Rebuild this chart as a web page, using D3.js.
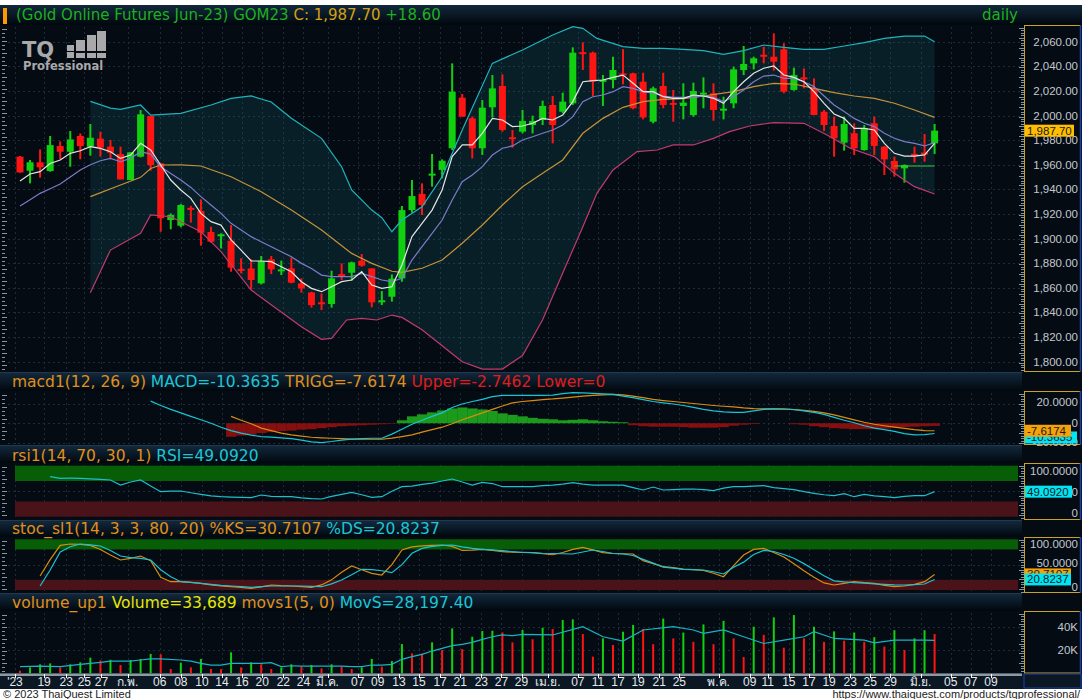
<!DOCTYPE html>
<html>
<head>
<meta charset="utf-8">
<script src="https://cdn.jsdelivr.net/npm/d3@7"></script>
<style>
  body { margin: 0; background: #fff; }
  svg { display: block; }
  text { font-family: "Liberation Sans", Arial, sans-serif; }
  .ttl { font-family: "DejaVu Sans", Verdana, sans-serif; }
</style>
</head>
<body>
<div id="chart"></div>
<script>
// ---- data ----
var open = [1966.6,1955.2,1962.0,1954.9,1975.2,1970.6,1983.4,1974.7,1981.2,1974.7,
  1968.7,1947.6,1966.6,1999.6,1961.2,1915.1,1910.5,1925.0,1922.4,1905.4,
  1902.5,1898.3,1875.4,1875.8,1863.7,1883.2,1874.0,1875.8,1863.7,1856.3,
  1848.3,1846.9,1871.2,1872.3,1882.1,1875.8,1848.5,1852.8,1867.7,1923.2,
  1936.3,1952.0,1955.8,1973.4,2014.5,1997.7,1973.4,2006.7,2024.0,1982.4,
  1986.9,1992.3,1996.4,2008.6,2003.1,2009.9,2051.5,2051.1,2027.5,2028.9,
  2034.3,2034.3,2027.5,1995.0,2024.0,2010.3,2007.8,2000.4,2017.5,2018.1,
  2004.5,2009.9,2037.0,2042.4,2049.4,2047.8,2053.8,2020.8,2031.0,2022.1,
  2003.1,1991.5,1978.0,1985.6,1972.0,1993.7,1974.7,1963.1,1957.1,1968.9,
  1969.9,1977.4];
var high = [1967.1,1963.9,1972.5,1983.4,1979.0,1987.4,1985.5,1993.1,1986.9,1980.1,
  1974.7,1970.1,2004.5,1999.6,1961.2,1920.5,1928.1,1926.6,1931.9,1909.7,
  1904.3,1911.0,1884.0,1883.2,1885.9,1885.9,1882.1,1884.5,1867.7,1856.9,
  1855.5,1873.9,1879.9,1881.3,1887.5,1875.8,1857.4,1870.9,1926.5,1947.6,
  1944.9,1968.8,1964.4,2042.4,2017.5,1999.1,2012.6,2032.9,2033.5,1988.3,
  2004.5,1999.9,2012.1,2015.9,2018.6,2055.4,2059.5,2051.9,2032.9,2047.8,
  2054.0,2034.8,2034.8,2023.5,2034.8,2020.8,2026.2,2026.7,2031.0,2026.2,
  2015.3,2039.7,2056.5,2047.8,2055.9,2066.8,2058.7,2038.9,2038.3,2030.2,
  2004.5,1999.1,1999.1,1993.7,1992.3,1999.1,1975.3,1966.6,1960.3,1974.7,
  1985.0,1993.1];
var low = [1953.6,1944.9,1949.5,1954.4,1964.4,1958.4,1964.4,1967.4,1966.6,1964.4,
  1948.1,1947.6,1966.0,1955.2,1905.6,1907.6,1909.2,1913.0,1894.3,1896.7,
  1892.0,1873.1,1871.8,1859.0,1862.8,1871.2,1870.4,1863.7,1856.1,1843.9,
  1842.0,1843.9,1866.4,1865.8,1877.2,1844.2,1846.1,1848.8,1865.0,1921.1,
  1919.2,1942.2,1949.0,1972.0,1999.1,1965.2,1968.0,1998.5,1986.9,1973.9,
  1985.5,1985.5,1992.3,1977.4,2001.8,2008.6,2037.0,2015.9,2007.8,2022.1,
  2025.3,2005.1,1996.9,1993.7,2005.9,1995.0,1996.9,1999.1,2005.9,1995.8,
  1996.9,2005.9,2032.9,2037.5,2042.4,2036.4,2018.1,2020.2,2022.1,2000.4,
  1987.4,1966.6,1971.5,1967.9,1971.5,1967.9,1951.7,1950.3,1945.5,1961.7,
  1962.5,1968.8];
var close = [1953.8,1962.0,1957.9,1976.0,1970.6,1980.6,1975.2,1982.0,1973.9,1969.8,
  1948.1,1970.1,2001.0,1959.8,1916.5,1919.2,1927.3,1923.8,1904.8,1897.5,
  1903.5,1876.4,1874.3,1866.4,1881.8,1875.0,1875.0,1864.2,1859.6,1846.0,
  1847.5,1867.7,1869.0,1880.7,1878.0,1848.2,1849.9,1867.5,1923.2,1934.6,
  1927.3,1952.8,1963.3,2019.4,1999.1,1973.4,2006.4,2022.1,1988.3,1981.6,
  1995.6,1995.6,2007.8,1992.3,2011.3,2051.1,2050.0,2027.5,2029.0,2037.0,
  2033.2,2005.9,1998.5,2022.1,2008.6,2009.4,2010.5,2019.9,2018.6,2004.5,
  2005.6,2037.5,2041.9,2046.5,2048.4,2043.8,2019.4,2032.9,2029.4,2000.4,
  1992.3,1981.5,1993.1,1973.4,1989.6,1975.3,1964.4,1956.3,1959.8,1968.0,
  1969.1,1987.7];

// short and long moving averages (white, purple), one value per candle
var maFast = [1946.8,1952.5,1954.4,1961.1,1963.9,1969.3,1971.4,1974.7,1973.3,1970.6,
  1965.2,1967.9,1977.4,1972.0,1959.8,1947.6,1939.5,1932.7,1920.5,1913.8,
  1911.0,1898.9,1890.7,1881.8,1881.8,1881.3,1877.2,1873.1,1865.0,1859.6,
  1856.9,1860.9,1865.0,1866.4,1873.1,1862.3,1859.6,1860.9,1878.6,1901.6,
  1912.4,1923.2,1939.5,1966.6,1976.1,1976.1,1985.6,1997.7,1996.4,1991.0,
  1991.5,1993.7,1997.7,1996.4,2000.4,2011.3,2027.5,2028.4,2028.9,2031.0,
  2032.9,2026.2,2019.4,2019.4,2015.3,2014.0,2014.0,2016.7,2015.9,2014.0,
  2009.9,2019.4,2027.5,2034.3,2038.4,2040.3,2032.9,2031.0,2027.5,2019.4,
  2009.9,2001.3,1997.7,1989.6,1989.6,1988.3,1977.4,1969.3,1967.1,1967.1,
  1968.0,1977.4];
var maSlow = [1926.5,1931.5,1936.8,1940.5,1944.4,1950.0,1955.8,1960.0,1963.3,1965.2,
  1962.5,1965.2,1970.6,1968.7,1958.4,1953.0,1947.6,1941.6,1934.1,1927.3,
  1920.5,1912.4,1907.0,1901.6,1897.5,1893.4,1889.4,1885.3,1879.9,1875.8,
  1870.4,1869.1,1869.1,1869.1,1871.8,1869.1,1866.4,1865.0,1867.7,1882.6,
  1893.5,1904.3,1915.1,1931.4,1946.3,1951.7,1958.5,1967.9,1973.4,1975.3,
  1980.1,1982.8,1985.6,1988.3,1992.3,1999.1,2011.3,2015.3,2016.7,2019.4,
  2023.5,2022.1,2019.4,2018.1,2015.9,2014.8,2014.8,2014.8,2015.9,2014.8,
  2011.3,2015.3,2020.8,2027.5,2032.1,2032.9,2030.2,2030.2,2027.5,2023.5,
  2015.9,2008.6,2003.2,1997.7,1993.7,1991.0,1985.6,1981.5,1978.8,1977.4,
  1975.3,1978.0];

// bollinger band lines as [candle index, price]
var bbUpper = [[7,2011.5],[9,2006],[10,2005],[12,2008.6],[13,2000.4],[16,2001.8],[19,2008.6],
  [21,2014],[23,2015.9],[25,2011],[27,1997.8],[30,1981.5],[32,1958.4],[33,1939.5],[35,1923.2],
  [36,1917],[37,1905.6],[38,1915.1],[40,1925.9],[42,1950.3],[44,1988.3],[47,2042.4],[50,2053.3],
  [53,2065.4],[55,2072.2],[56,2070.9],[57.4,2062.7],[60,2056],[62,2054.6],[64,2054.6],[66,2053.8],
  [68,2052.7],[70,2049.7],[72,2052.7],[74,2057.3],[76,2055.4],[78,2053.8],[80,2053.8],[82,2056.5],
  [84,2059.2],[86,2062.7],[88,2064.6],[90,2064.6],[91,2060]];
var bbMid = [[7,1934.1],[10,1943.6],[12,1949.8],[13,1957],[14,1959.8],[16,1960],[18,1959],[21,1950.3],
  [24,1938.1],[27,1923.2],[30,1907],[33,1888],[35,1879.9],[37,1873.5],[38,1872.6],[40,1875.9],
  [42,1882.6],[44,1896.2],[46,1911.1],[48,1927.3],[50,1942.2],[52,1953.1],[54,1963.9],[56,1985.6],
  [58,1997.7],[60,2006.7],[62,2011.3],[64,2013.2],[66,2013.7],[68,2015.9],[71,2019.4],[73,2023.5],
  [75,2026.2],[77,2025.6],[79,2022.1],[81,2018.6],[83,2015.9],[85,2014.0],[87,2010.0],[89,2004.5],
  [91,1998.5]];
var bbLower = [[7,1856.1],[9,1890.7],[12,1904.3],[13,1919.2],[15,1917.8],[18,1905.6],[20,1889.4],
  [23,1858.2],[25.5,1843.3],[28,1828.4],[30,1818.2],[31,1819],[32.5,1833.9],[34,1835.2],[35.5,1833.9],
  [37,1837.9],[38,1836],[40,1826],[42,1813],[44,1800],[46,1794],[48,1794],[50,1805],[52,1834],
  [54,1872],[56,1909.7],[57.4,1936.8],[59,1955.8],[61.4,1970.7],[63.4,1972],[65,1976.1],[67,1976.1],
  [69,1981.5],[70.6,1986.9],[72.6,1991.5],[75,1994.3],[78,1993.7],[80.3,1984.2],[82.6,1973.4],
  [85,1966.6],[87,1953.1],[89,1942.2],[91,1936.3]];
var levelLine = [[87,1959],[91,1959]];

// MACD panel, first value belongs to candle macdStart / trigStart / histStart
var macdStart = 13;
var macdLine = [22.4,18,14,10.5,7,3.5,0,-4,-7.5,-10,-12,-13.5,-14,-14.8,-15.5,-17,-18.8,-19.7,
  -18.5,-17,-16,-15.5,-15.2,-15.2,-11,-6,-1,3,7,10.5,16,19.5,22,24.1,27,28.2,28.2,28.2,28.2,28.2,
  28.5,30,31,30.8,30.3,29.8,29.2,27.5,26,24,22,20.7,19.5,18,16,14,12.5,11.5,11.1,11.1,12.5,14,14.5,
  14.2,13.9,12.5,11,9,6,3,0.5,-2.5,-4.9,-6.5,-8.2,-10.5,-11.8,-11.5,-10.4];
var trigStart = 21;
var trigLine = [7,3,-0.5,-4.9,-7.5,-10,-11.8,-13,-14.2,-14.8,-15.2,-15.6,-16,-16.2,-16.2,-16.2,-15,
  -13.5,-11.8,-9,-6.5,-4,-0.5,3.5,7,10.5,14,17.5,20.7,22,23,24,24.6,25.5,26.5,27.5,28.2,28.8,29.2,
  28.8,27.5,26,24.1,23,22,21,20,19,18,17.2,16.5,15.5,14.8,14.5,14.5,14.5,13.8,13,12.1,10.5,8.5,6,
  3.5,1,-1,-2.5,-3.9,-5.2,-6.5,-7.4,-7.6];
var histStart = 21;
var histVals = [-13.7,-12.5,-11.5,-10,-9,-8,-7.5,-6.5,-6,-5,-4,-3,-2.5,-2,-1.5,-1,-0.5,3,7,9,11,
  13,15,16,15,14,12.5,10,8.5,7,5.5,4.5,4,3,3.5,4,3,2,1.5,1,-2,-3,-3.5,-3.5,-3.5,-4,-4.5,-4.5,-4.5,
  -4,-2.5,-1.5,-0.8,0,0,0,-1,-1.5,-3,-4,-5,-5.5,-6,-6,-6,-5.5,-4.5,-4,-3.5,-3,-2.75];

// RSI panel
var rsiStart = 3;
var rsiVals = [78.4,75.3,75.5,75.3,74,73,72,62,68,72,60,49,50,50.4,47,43.9,41,39.2,38.5,38,37.3,
  42.5,40,39.5,39.2,37,35.5,34.7,40,43.9,47.8,43,38,39.2,50,58.8,60,63.5,66,70,73.9,68,62,67.4,65,
  58.8,58.8,58.8,58.8,61,62,64,66.7,64,62,62,62,62,57,52.4,58.2,52.4,53,54,54.3,53,51,56,58.8,59,60,
  60.8,57,55,53,49,45.9,43,41.2,45.1,39.2,43.9,41,39.2,37.3,40,41.2,41.2,49.1];

// Stochastic panel
var stochStart = 2;
var stochK = [27.6,60,88,90.7,90,88,80,69,59.2,62.5,67,57.8,25,16.4,16.4,15,13.2,10,8,6.5,5,3.4,6,
  9.9,8.5,7.9,6.5,5.3,10,20,35,47.3,40,32.9,29.6,50,78.9,85,87,88,88.8,86,78,78.5,80.3,78,75.5,74.5,
  74,73.6,71.5,69.5,74,80,84.2,79,73.6,72,71.5,71,58,52,46,44,41,40,38.5,33,26.2,48,69,80,82,74,65,52,
  38,25,14,9.9,13,16.4,14.5,13.2,9,6.5,7.9,11,16.4,30.7];
var stochD = [7.9,39.4,75,85.4,90.7,89,86.8,78,67,64,62.5,59.2,40,26.2,16.4,15,13.2,11,9,7.9,6.5,
  5.3,6.5,7.9,7.9,7.9,7.9,7,6.5,12,19.7,30,40.8,40,38,34.2,50,72.4,82,86,88,88.8,85,82,80.3,79,77.5,
  75.5,74.5,73.6,72.5,72,71.5,71,75,78.9,76,72,71,68,60.5,53,45,43,40.8,40,39.4,36,31.6,45,55,70,78,
  76,70,62.5,52,40,28,18,16,14.5,13.5,12,11,10,9.9,10.5,11.8,20.8];

// Volume panel
var volume = [2200,5100,7700,8500,5100,7700,9400,13400,11000,11600,
  7100,11400,12300,16600,16300,3700,9100,5100,12300,3700,
  3500,18000,5100,9400,7700,3700,5100,7700,5700,7100,
  4200,7700,5700,3700,5100,12300,5700,10500,25100,17100,
  16900,26600,20000,38600,20800,31400,36300,36500,35100,26600,
  37200,29200,39100,38000,45700,46300,33700,14300,30000,24300,
  35700,41500,38000,25000,47000,30000,35000,27000,42000,25000,
  45000,30000,14000,40000,33000,48000,22000,50000,30000,40000,
  27000,36000,28000,35000,27000,31000,23000,37000,20000,30000,
  37000,33689];
var movS = [[0,5700],[2,6200],[4,5700],[6,7700],[8,9400],[9,10500],[11,10500],[12,11400],[13,12300],
  [14,12300],[16,11400],[17,10500],[18,8500],[19,7100],[20,7100],[21,8500],[22,8500],[24,8500],
  [25,9100],[26,5700],[27,6500],[28,6200],[30,6200],[32,6200],[33,5700],[34,5700],[35,7100],[36,7100],
  [37,7700],[38,12000],[39,14300],[40,16300],[41,19100],[42,21400],[43,23700],[44,24800],[45,26600],
  [46,29100],[47,31400],[48,32900],[49,32300],[50,33400],[53,32900],[56,40000],[58,31400],[60,27700],
  [62,37200],[65,40000],[67,37200],[68,34300],[70,37200],[72,31400],[74,25600],[76,28500],[78,31400],
  [79,35700],[81,29900],[84,28500],[85,26200],[87,28500],[90,28500],[91,28197]];

// price axis and time axis labels
var priceTicks = [1800,1820,1840,1860,1880,1900,1920,1940,1960,1980,2000,2020,2040,2060];
var xLabels = ["'23","19","23","25","27","ก.พ.","06","08","10","14","16","20","22","24","มี.ค.",
  "07","09","13","15","17","21","23","27","29","เม.ย.","07","11","17","19","21","25","พ.ค.",
  "09","11","15","17","19","23","25","29","มิ.ย.","05","07","09"];
var xLabelPos = [-0.5,2.4,4.6,6.4,8.1,10.7,13.9,16.0,18.1,20.1,22.1,24.1,26.2,28.2,30.6,
  33.6,35.6,37.7,39.7,41.8,43.8,45.9,47.9,49.9,52.5,55.5,57.5,59.5,61.5,63.6,65.6,69.5,
  72.6,74.4,76.5,78.5,80.5,82.6,84.6,86.6,89.6,92.6,94.6,96.6];

// ---- layout ----
var W = 1082, H = 699;
var plotRight = 1022;
var up = '#10d010', down = '#ff1414';
var bg = '#040b13';
var gridColor = '#1d2c3c';

var svg = d3.select('#chart').append('svg').attr('width', W).attr('height', H);
var defs = svg.append('defs');
var grad = defs.append('linearGradient').attr('id', 'titleGrad').attr('x1', 0).attr('y1', 0).attr('x2', 0).attr('y2', 1);
grad.append('stop').attr('offset', '0%').attr('stop-color', '#12283c');
grad.append('stop').attr('offset', '100%').attr('stop-color', '#01070d');
defs.append('clipPath').attr('id', 'plotClip').append('rect')
  .attr('x', 8).attr('y', 0).attr('width', plotRight - 8).attr('height', H);

var x = d3.scaleLinear().domain([0, 91]).range([20, 934.6]);

var panels = {
  main:  {title: [5, 25],   plot: [25, 372]},
  macd:  {title: [373, 391], plot: [391, 445]},
  rsi:   {title: [446, 463], plot: [463, 520]},
  stoch: {title: [521, 537], plot: [537, 593]},
  vol:   {title: [594, 611], plot: [611, 673.5]}
};

var yPrice = d3.scaleLinear().domain([1800, 2060]).range([361.7, 41.7]);
var yMacd = d3.scaleLinear().domain([-20, 20]).range([443, 403.5]);
var yRsi = d3.scaleLinear().domain([0, 100]).range([516.7, 465.7]);
var yStoch = d3.scaleLinear().domain([0, 100]).range([590, 539.3]);
var yVol = d3.scaleLinear().domain([0, 40000]).range([673.3, 626.7]);

// backgrounds
Object.keys(panels).forEach(function(k) {
  var p = panels[k];
  svg.append('rect').attr('x', 0).attr('y', p.title[0]).attr('width', W)
    .attr('height', p.title[1] - p.title[0]).attr('fill', 'url(#titleGrad)');
  svg.append('rect').attr('x', 0).attr('y', p.plot[0]).attr('width', W)
    .attr('height', p.plot[1] - p.plot[0]).attr('fill', bg);
  svg.append('line').attr('x1', 0).attr('x2', W).attr('y1', p.plot[1] + 0.5).attr('y2', p.plot[1] + 0.5)
    .attr('stroke', '#22384c');
});

// vertical dotted grid in all panels
Object.keys(panels).forEach(function(k) {
  var p = panels[k];
  svg.append('g').selectAll('line').data(xLabelPos).enter().append('line')
    .attr('x1', function(d) { return Math.round(x(d)) + 0.5; })
    .attr('x2', function(d) { return Math.round(x(d)) + 0.5; })
    .attr('y1', p.plot[0] + 2).attr('y2', p.plot[1] - 1)
    .attr('stroke', gridColor).attr('stroke-dasharray', '2,3');
});

// horizontal grid
function hGrid(vals, scale) {
  svg.append('g').selectAll('line').data(vals).enter().append('line')
    .attr('x1', 8).attr('x2', plotRight)
    .attr('y1', function(d) { return Math.round(scale(d)) + 0.5; })
    .attr('y2', function(d) { return Math.round(scale(d)) + 0.5; })
    .attr('stroke', gridColor).attr('stroke-dasharray', '2,3');
}
hGrid(priceTicks, yPrice);
hGrid([-20, 0, 20], yMacd);
hGrid([50], yRsi);
hGrid([50], yStoch);
hGrid([20000, 40000], yVol);

// ---- main price panel ----
var gMain = svg.append('g').attr('clip-path', 'url(#plotClip)');
var pLine = d3.line().x(function(d) { return x(d[0]); }).y(function(d) { return yPrice(d[1]); });
var bandPts = bbUpper.concat(bbLower.slice().reverse());
gMain.append('path').attr('d', pLine(bandPts) + 'Z').attr('fill', 'rgba(24,105,118,0.22)');

var candles = gMain.append('g').selectAll('g').data(d3.range(open.length)).enter().append('g');
candles.append('line')
  .attr('x1', function(i) { return x(i); }).attr('x2', function(i) { return x(i); })
  .attr('y1', function(i) { return yPrice(high[i]); })
  .attr('y2', function(i) { return yPrice(low[i]); })
  .attr('stroke', function(i) { return close[i] >= open[i] ? up : down; })
  .attr('stroke-width', 2);
candles.append('rect')
  .attr('x', function(i) { return x(i) - 3.5; })
  .attr('width', 7)
  .attr('y', function(i) { return yPrice(Math.max(open[i], close[i])); })
  .attr('height', function(i) { return Math.max(2, Math.abs(yPrice(open[i]) - yPrice(close[i]))); })
  .attr('fill', function(i) { return close[i] >= open[i] ? up : down; });

function drawLine(g, pts, color, w) {
  g.append('path').attr('d', pLine(pts)).attr('fill', 'none').attr('stroke', color).attr('stroke-width', w || 1.2);
}
function perCandle(arr, start) {
  return arr.map(function(v, i) { return [i + (start || 0), v]; });
}
drawLine(gMain, bbUpper, '#1fb4bd');
drawLine(gMain, bbLower, '#c23a6e');
drawLine(gMain, bbMid, '#c69238');
drawLine(gMain, perCandle(maSlow), '#7c7cc8');
drawLine(gMain, perCandle(maFast), '#e6e6e6');
drawLine(gMain, levelLine, '#38c838');

// header
svg.append('rect').attr('x', 0).attr('y', 0).attr('width', W).attr('height', 5).attr('fill', '#fff');
svg.append('rect').attr('x', 3).attr('y', 8).attr('width', 4).attr('height', 16).attr('fill', '#ff9900');
var head = svg.append('text').attr('class', 'ttl').attr('x', 16).attr('y', 20).attr('font-size', 15);
head.append('tspan').attr('fill', '#1eb01e').text('(Gold Online Futures Jun-23) GOM23 ');
head.append('tspan').attr('fill', '#d4a015').text('C: 1,987.70 ');
head.append('tspan').attr('fill', '#1eb01e').text('+18.60');
svg.append('text').attr('class', 'ttl').attr('x', 1018).attr('y', 20).attr('text-anchor', 'end').attr('font-size', 15)
  .attr('fill', '#1eb01e').text('daily');

// logo
var logo = svg.append('g').attr('fill', '#a9a9a9');
logo.append('text').attr('class', 'ttl').attr('x', 22).attr('y', 57).attr('font-size', 21).attr('font-weight', 'bold')
  .text('TQ');
logo.append('text').attr('class', 'ttl').attr('x', 23).attr('y', 70).attr('font-size', 11.5).attr('font-weight', 'bold')
  .text('Professional');
[[67, 45, 7, 6], [76, 40, 9, 11], [87, 35, 9, 16], [97, 31, 9, 20],
 [67, 52, 7, 6], [76, 53, 9, 5], [87, 53, 9, 5], [97, 53, 9, 5]].forEach(function(r) {
  logo.append('rect').attr('x', r[0]).attr('y', r[1]).attr('width', r[2]).attr('height', r[3]);
});

// ---- MACD ----
var gMacd = svg.append('g').attr('clip-path', 'url(#plotClip)');
var step = x(1) - x(0);
gMacd.selectAll('rect').data(histVals).enter().append('rect')
  .attr('x', function(d, i) { return x(i + histStart) - step / 2; })
  .attr('width', step + 0.3)
  .attr('y', function(d) { return Math.min(yMacd(0), yMacd(d)); })
  .attr('height', function(d) { return Math.abs(yMacd(d) - yMacd(0)); })
  .attr('fill', function(d) { return d >= 0 ? '#1c9a1c' : '#860f10'; });
var mLine = d3.line().x(function(d) { return x(d[0]); }).y(function(d) { return yMacd(d[1]); });
gMacd.append('path').attr('d', mLine(perCandle(trigLine, trigStart))).attr('fill', 'none')
  .attr('stroke', '#d98c12').attr('stroke-width', 1.2);
gMacd.append('path').attr('d', mLine(perCandle(macdLine, macdStart))).attr('fill', 'none')
  .attr('stroke', '#19c4d4').attr('stroke-width', 1.2);

// ---- RSI ----
var gRsi = svg.append('g').attr('clip-path', 'url(#plotClip)');
gRsi.append('rect').attr('x', 15).attr('width', 1003).attr('y', yRsi(100)).attr('height', yRsi(70) - yRsi(100)).attr('fill', '#075e07');
gRsi.append('rect').attr('x', 15).attr('width', 1003).attr('y', yRsi(30)).attr('height', yRsi(0) - yRsi(30)).attr('fill', '#4a1219');
gRsi.append('path').attr('d', d3.line().x(function(d) { return x(d[0]); }).y(function(d) { return yRsi(d[1]); })(perCandle(rsiVals, rsiStart)))
  .attr('fill', 'none').attr('stroke', '#1cbfcc').attr('stroke-width', 1.2);

// ---- Stochastic ----
var gSt = svg.append('g').attr('clip-path', 'url(#plotClip)');
gSt.append('rect').attr('x', 15).attr('width', 1003).attr('y', yStoch(100)).attr('height', yStoch(80) - yStoch(100)).attr('fill', '#075e07');
gSt.append('rect').attr('x', 15).attr('width', 1003).attr('y', yStoch(20)).attr('height', yStoch(0) - yStoch(20)).attr('fill', '#4a1219');
var sLine = d3.line().x(function(d) { return x(d[0]); }).y(function(d) { return yStoch(d[1]); });
gSt.append('path').attr('d', sLine(perCandle(stochK, stochStart))).attr('fill', 'none').attr('stroke', '#d98c12').attr('stroke-width', 1.2);
gSt.append('path').attr('d', sLine(perCandle(stochD, stochStart))).attr('fill', 'none').attr('stroke', '#19c4d4').attr('stroke-width', 1.2);

// ---- Volume ----
var gVol = svg.append('g').attr('clip-path', 'url(#plotClip)');
gVol.selectAll('rect').data(volume).enter().append('rect')
  .attr('x', function(d, i) { return x(i) - 1; })
  .attr('width', 2)
  .attr('y', function(d) { return yVol(d); })
  .attr('height', function(d) { return yVol(0) - yVol(d); })
  .attr('fill', function(d, i) { return i > 0 && d >= volume[i - 1] ? up : down; });
gVol.append('path').attr('d', d3.line().x(function(d) { return x(d[0]); }).y(function(d) { return yVol(d[1]); })(movS))
  .attr('fill', 'none').attr('stroke', '#19b4c4').attr('stroke-width', 1.2);

// ---- panel titles ----
function title(y, parts) {
  var t = svg.append('text').attr('class', 'ttl').attr('x', 12).attr('y', y).attr('font-size', 15.5);
  parts.forEach(function(p) { t.append('tspan').attr('fill', p[1]).text(p[0]); });
}
var cOr = '#e0901a', cCy = '#1cc6d6', cRd = '#e01c1c', cYe = '#e6e600';
title(387, [['macd1(12, 26, 9) ', cOr], ['MACD=-10.3635 ', cCy], ['TRIGG=-7.6174 ', cOr], ['Upper=-2.7462 Lower=0', cRd]]);
title(461, [['rsi1(14, 70, 30, 1) ', cOr], ['RSI=49.0920', cCy]]);
title(534, [['stoc_sl1(14, 3, 3, 80, 20) %KS=30.7107 ', cOr], ['%DS=20.8237', cCy]]);
title(608, [['volume_up1 ', cOr], ['Volume=33,689 ', cYe], ['movs1(5, 0) ', cOr], ['MovS=28,197.40', cCy]]);

// ---- left rulers ----
Object.keys(panels).forEach(function(k) {
  var p = panels[k];
  var ys = d3.range(p.plot[0] + 4, p.plot[1] - 2, 4);
  svg.append('g').selectAll('line').data(ys).enter().append('line')
    .attr('x1', 2).attr('x2', function(d, i) { return i % 3 === 0 ? 7 : 5; })
    .attr('y1', function(d) { return d + 0.5; }).attr('y2', function(d) { return d + 0.5; })
    .attr('stroke', '#8795a3');
});

// ---- right axis boxes ----
svg.append('rect').attr('x', plotRight).attr('y', 25).attr('width', W - plotRight).attr('height', 649).attr('fill', '#040b13');
Object.keys(panels).forEach(function(k) {
  var p = panels[k];
  var top = k === 'main' ? 25 : p.plot[0];
  svg.append('rect').attr('x', 1024.5).attr('y', top + 0.5).attr('width', 56).attr('height', p.plot[1] - top - 1)
    .attr('fill', 'none').attr('stroke', '#c9a227');
  svg.append('line').attr('x1', 1080.5).attr('x2', 1080.5).attr('y1', top).attr('y2', p.plot[1])
    .attr('stroke', '#1c3fa8').attr('stroke-width', 1.5);
  var ys = d3.range(top + 3, p.plot[1] - 1, 2.46);
  svg.append('g').selectAll('line').data(ys).enter().append('line')
    .attr('x1', function(d, i) { return i % 4 === 0 ? 1019 : 1021; }).attr('x2', 1024)
    .attr('y1', function(d) { return Math.round(d) + 0.5; }).attr('y2', function(d) { return Math.round(d) + 0.5; })
    .attr('stroke', '#8795a3');
});

function axisLabel(y, txt) {
  svg.append('text').attr('x', 1078).attr('y', y + 4).attr('text-anchor', 'end')
    .attr('font-size', 11.5).attr('fill', '#c3c8ce').text(txt);
}
var fmt = d3.format(',.2f');
priceTicks.forEach(function(v) { axisLabel(yPrice(v), fmt(v)); });
function valueBox(y, txt, fill, w) {
  svg.append('rect').attr('x', 1025).attr('y', y - 6).attr('width', w || 48).attr('height', 12).attr('fill', fill);
  svg.append('text').attr('x', 1027).attr('y', y + 4).attr('font-size', 11.5).attr('fill', '#1a1a1a').text(txt);
}
valueBox(yPrice(1987.7), '1,987.70', '#ffbf00', 49);

axisLabel(402.3, '20.0000'); axisLabel(423.3, '0'); axisLabel(441.5, '-20.0000');
valueBox(yMacd(-10.3635) + 4, '-10.3635', '#00e4f4', 52);
valueBox(yMacd(-7.6174), '-7.6174', '#f5a20a', 46);

axisLabel(470.5, '100.0000'); axisLabel(491.5, '50.0000'); axisLabel(513, '0');
valueBox(yRsi(49.092), '49.0920', '#00e4f4', 47);

axisLabel(544, '100.0000'); axisLabel(563.3, '50.0000'); axisLabel(586.7, '0');
valueBox(yStoch(30.7107), '30.7107', '#f5a20a', 46);
valueBox(yStoch(20.8237), '20.8237', '#00e4f4', 46);

axisLabel(yVol(40000), '40K'); axisLabel(yVol(20000), '20K');

// ---- time axis ----
svg.append('rect').attr('x', 0).attr('y', 674).attr('width', W).attr('height', 15).attr('fill', '#0b1824');
svg.append('line').attr('x1', 0).attr('x2', plotRight).attr('y1', 675).attr('y2', 675).attr('stroke', '#8b98a5').attr('stroke-width', 2);
svg.append('g').selectAll('line').data(xLabelPos).enter().append('line')
  .attr('x1', function(d) { return Math.round(x(d)) + 0.5; }).attr('x2', function(d) { return Math.round(x(d)) + 0.5; })
  .attr('y1', 674).attr('y2', 678).attr('stroke', '#ffffff');
svg.append('g').selectAll('text').data(xLabels).enter().append('text')
  .attr('x', function(d, i) { return x(xLabelPos[i]); })
  .attr('y', 686).attr('text-anchor', 'middle').attr('font-size', 12).attr('fill', '#e4e8ec')
  .text(function(d) { return d; });
svg.append('rect').attr('x', plotRight + 2).attr('y', 674).attr('width', W - plotRight - 3).attr('height', 14)
  .attr('fill', '#0b1824').attr('stroke', '#1c3fa8');

// footer
svg.append('rect').attr('x', 0).attr('y', 689).attr('width', W).attr('height', 10).attr('fill', '#fff');
svg.append('text').attr('x', 3).attr('y', 698).attr('font-size', 11).attr('fill', '#222').text('\u00a9 2023 ThaiQuest Limited');
svg.append('text').attr('x', 1080).attr('y', 698).attr('text-anchor', 'end').attr('font-size', 11).attr('fill', '#222')
  .text('https://www.thaiquest.com/products/tqprofessional/');
</script>
</body>
</html>
